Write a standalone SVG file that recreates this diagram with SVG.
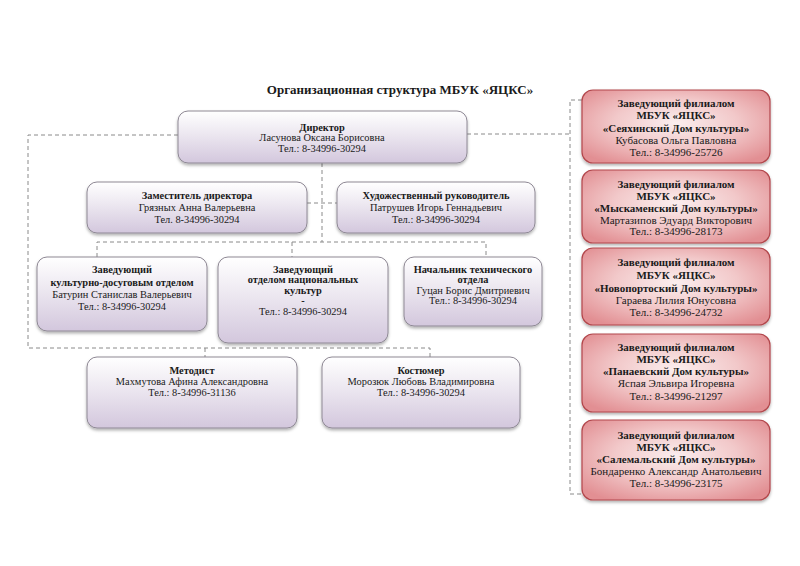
<svg xmlns="http://www.w3.org/2000/svg" width="800" height="566" viewBox="0 0 800 566">
<style>
text{font-family:"Liberation Serif","Times New Roman",serif;fill:#1a1a1a;text-anchor:middle;dominant-baseline:central}
.t{font-size:10.4px}
.rt{font-size:11px}
.b{font-weight:bold}
.title{font-size:13px;font-weight:bold}
.p{fill:url(#pg);stroke:#8e8894;stroke-width:1;filter:url(#sh)}
.r{fill:url(#rg);stroke:#b2474c;stroke-width:1.2;filter:url(#sh)}
.c{fill:none;stroke:#8a8a8a;stroke-width:1;stroke-dasharray:4 3}
</style>
<defs>
<linearGradient id="pg" x1="0" y1="0" x2="0" y2="1">
<stop offset="0" stop-color="#ffffff"/>
<stop offset="0.45" stop-color="#ece7f0"/>
<stop offset="1" stop-color="#d3c7dd"/>
</linearGradient>
<radialGradient id="rg" cx="0.5" cy="0.45" r="0.65">
<stop offset="0" stop-color="#fbeeee"/>
<stop offset="0.5" stop-color="#f2c9ca"/>
<stop offset="1" stop-color="#e28f93"/>
</radialGradient>
<filter id="sh" x="-10%" y="-10%" width="120%" height="130%">
<feDropShadow dx="0" dy="2" stdDeviation="1.5" flood-color="#000" flood-opacity="0.3"/>
</filter>
</defs>
<rect width="800" height="566" fill="#ffffff"/>
<text class="title" x="400" y="89">Организационная структура МБУК «ЯЦКС»</text>
<g id="connectors">
<path class="c" d="M178,135 H28 V348 H430 V357"/>
<path class="c" d="M205,348 V357"/>
<path class="c" d="M467,134 H570"/>
<path class="c" d="M582,100 H570 V494 H582"/>
<path class="c" d="M322,163 V242"/>
<path class="c" d="M307,203 H337"/>
<path class="c" d="M97,257 V242 H486 V257"/>
<path class="c" d="M292,242 V257"/>
</g>
<g id="director">
<rect class="p" x="178" y="111" width="289" height="52" rx="10"/>
<text class="t b" x="322" y="127">Директор</text>
<text class="t" x="322" y="137.5">Ласунова Оксана Борисовна</text>
<text class="t" x="322" y="148.5">Тел.: 8-34996-30294</text>
</g>
<g id="deputy">
<rect class="p" x="87" y="182" width="220" height="51" rx="10"/>
<text class="t b" x="197" y="195">Заместитель директора</text>
<text class="t" x="197" y="207">Грязных Анна Валерьевна</text>
<text class="t" x="197" y="219">Тел. 8-34996-30294</text>
</g>
<g id="art-director">
<rect class="p" x="337" y="182" width="198" height="51" rx="10"/>
<text class="t b" x="436" y="195">Художественный руководитель</text>
<text class="t" x="436" y="207">Патрушев Игорь Геннадьевич</text>
<text class="t" x="436" y="219">Тел.: 8-34996-30294</text>
</g>
<g id="cultural-dept">
<rect class="p" x="37" y="257" width="170" height="74" rx="10"/>
<text class="t b" x="122" y="269">Заведующий</text>
<text class="t b" x="122" y="282">культурно-досуговым отделом</text>
<text class="t" x="122" y="294">Батурин Станислав Валерьевич</text>
<text class="t" x="122" y="306">Тел.: 8-34996-30294</text>
</g>
<g id="national-dept">
<rect class="p" x="218" y="257" width="170" height="86" rx="10"/>
<text class="t b" x="303" y="269">Заведующий</text>
<text class="t b" x="303" y="279.5">отделом национальных</text>
<text class="t b" x="303" y="290">культур</text>
<text class="t b" x="303" y="300.5">-</text>
<text class="t" x="303" y="311">Тел.: 8-34996-30294</text>
</g>
<g id="tech-dept">
<rect class="p" x="404" y="257" width="138" height="69" rx="10"/>
<text class="t b" x="473" y="269">Начальник технического</text>
<text class="t b" x="473" y="279.5">отдела</text>
<text class="t" x="473" y="290">Гуцан Борис Дмитриевич</text>
<text class="t" x="473" y="300.5">Тел.: 8-34996-30294</text>
</g>
<g id="methodist">
<rect class="p" x="87" y="357" width="210" height="71" rx="10"/>
<text class="t b" x="192" y="370">Методист</text>
<text class="t" x="192" y="381">Махмутова Афина Александровна</text>
<text class="t" x="192" y="392">Тел.: 8-34996-31136</text>
</g>
<g id="costumer">
<rect class="p" x="322" y="357" width="198" height="71" rx="10"/>
<text class="t b" x="421" y="370">Костюмер</text>
<text class="t" x="421" y="381">Морозюк Любовь Владимировна</text>
<text class="t" x="421" y="392">Тел.: 8-34996-30294</text>
</g>
<g id="branch-1">
<rect class="r" x="582" y="90" width="188" height="73" rx="11"/>
<text class="rt b" x="676" y="103">Заведующий филиалом</text>
<text class="rt b" x="676" y="115">МБУК «ЯЦКС»</text>
<text class="rt b" x="676" y="128">«Сеяхинский Дом культуры»</text>
<text class="rt" x="676" y="140">Кубасова Ольга Павловна</text>
<text class="rt" x="676" y="152">Тел.: 8-34996-25726</text>
</g>
<g id="branch-2">
<rect class="r" x="582" y="170" width="188" height="73" rx="11"/>
<text class="rt b" x="676" y="184">Заведующий филиалом</text>
<text class="rt b" x="676" y="196">МБУК «ЯЦКС»</text>
<text class="rt b" x="676" y="208">«Мыскаменский Дом культуры»</text>
<text class="rt" x="676" y="219.5">Мартазипов Эдуард Викторович</text>
<text class="rt" x="676" y="231">Тел.: 8-34996-28173</text>
</g>
<g id="branch-3">
<rect class="r" x="582" y="248" width="188" height="77" rx="11"/>
<text class="rt b" x="676" y="262">Заведующий филиалом</text>
<text class="rt b" x="676" y="275">МБУК «ЯЦКС»</text>
<text class="rt b" x="676" y="288">«Новопортоский Дом культуры»</text>
<text class="rt" x="676" y="300">Гараева Лилия Юнусовна</text>
<text class="rt" x="676" y="312">Тел.: 8-34996-24732</text>
</g>
<g id="branch-4">
<rect class="r" x="582" y="334" width="188" height="78" rx="11"/>
<text class="rt b" x="676" y="347">Заведующий филиалом</text>
<text class="rt b" x="676" y="359">МБУК «ЯЦКС»</text>
<text class="rt b" x="676" y="371">«Панаевский Дом культуры»</text>
<text class="rt" x="676" y="383">Яспая Эльвира Игоревна</text>
<text class="rt" x="676" y="396">Тел.: 8-34996-21297</text>
</g>
<g id="branch-5">
<rect class="r" x="582" y="420" width="188" height="80" rx="11"/>
<text class="rt b" x="676" y="435">Заведующий филиалом</text>
<text class="rt b" x="676" y="447">МБУК «ЯЦКС»</text>
<text class="rt b" x="676" y="459">«Салемальский Дом культуры»</text>
<text class="rt" x="676" y="471">Бондаренко Александр Анатольевич</text>
<text class="rt" x="676" y="483">Тел.: 8-34996-23175</text>
</g>
</svg>
